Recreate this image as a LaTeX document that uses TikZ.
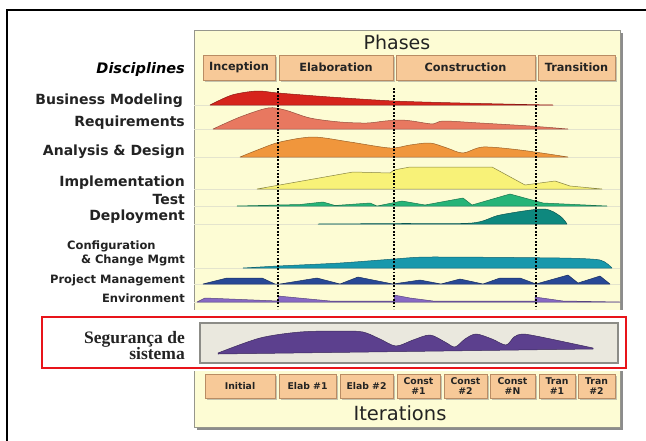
\documentclass[tikz,border=0pt]{standalone}
\usepackage{fontspec}
\setmainfont{DejaVu Sans}
\newfontfamily\serifbold{Liberation Serif}
\usetikzlibrary{shadows}
\definecolor{panelfill}{RGB}{253,252,212}
\definecolor{panelline}{RGB}{150,150,140}
\definecolor{boxfill}{RGB}{247,201,152}
\definecolor{boxline}{RGB}{185,140,100}
\definecolor{guide}{RGB}{228,228,205}
\definecolor{cBM}{RGB}{214,36,28}
\definecolor{cRQ}{RGB}{232,120,96}
\definecolor{cAD}{RGB}{240,150,60}
\definecolor{cIM}{RGB}{248,242,120}
\definecolor{cTE}{RGB}{38,180,120}
\definecolor{cDE}{RGB}{14,136,126}
\definecolor{cCM}{RGB}{24,152,172}
\definecolor{cPM}{RGB}{40,72,150}
\definecolor{cEN}{RGB}{135,105,195}
\definecolor{cSE}{RGB}{92,64,142}
\definecolor{secfill}{RGB}{234,232,222}
\definecolor{secline}{RGB}{140,140,135}
\definecolor{redbox}{RGB}{232,20,26}
\definecolor{txt}{RGB}{35,35,35}
\tikzset{
  disc/.style={anchor=base east, inner sep=0pt, font=\bfseries\fontsize{14}{15}\selectfont, text=txt},
  discsmall/.style={anchor=base east, inner sep=0pt, font=\bfseries\fontsize{11.5}{12}\selectfont, text=txt},
  phbox/.style={draw=boxline, fill=boxfill, line width=0.8pt, inner sep=0pt,
    font=\bfseries\fontsize{11.3}{12}\selectfont, text=txt,
    drop shadow={shadow xshift=1.5pt, shadow yshift=-1.5pt, opacity=0.45}},
  itbox/.style={phbox, font=\bfseries\fontsize{9.3}{9.5}\selectfont, align=center},
  hump/.style={fill=#1, draw=#1!65!black, line width=0.5pt, line join=round},
  phaseline/.style={line width=2pt, dash pattern=on 1.8pt off 1.6pt, black},
  guideline/.style={draw=guide, line width=0.7pt},
  secl/.style={anchor=base east, inner sep=0pt, font=\serifbold\bfseries\fontsize{17.5}{18}\selectfont, text=txt}
}
\begin{document}
\begin{tikzpicture}[x=1pt, y=-1pt]
\useasboundingbox (0,0) rectangle (646,440);
\fill[white] (0,0) rectangle (646,440);
% outer frame
\draw[line width=2.6pt, black] (7,450) -- (7,10) -- (660,10);
% panel
\fill[black!45] (197,33) rectangle (623,430);
\draw[panelline, fill=panelfill, line width=0.8pt] (194,30) rectangle (620,427);
% guide lines
\foreach \yy in {105,129,157,189,206,224,268,284,302}
  \draw[guideline] (194,\yy) -- (620,\yy);
% titles
\node[font=\fontsize{19}{20}\selectfont, text=txt, anchor=base] (phases) at (397,49) {Phases};
\node[font=\fontsize{19.5}{20}\selectfont, text=txt, anchor=base] (iters) at (400,420) {Iterations};
% phase boxes
\node[phbox, minimum width=72, minimum height=25] (inc) at (239,67.5) {Inception};
\node[phbox, minimum width=114, minimum height=25] (ela) at (336,67.5) {Elaboration};
\node[phbox, minimum width=139, minimum height=25] (con) at (465.5,67.5) {Construction};
\node[phbox, minimum width=77, minimum height=25] (tra) at (576.5,67.5) {Transition};
% humps
\draw[hump=cBM] plot[smooth, tension=0.5] coordinates {(210,105) (232,95) (257,91) (278,93) (330,97) (394,101) (460,103) (527,104.5) (553,105)} -- cycle;
\draw[hump=cRQ] plot[smooth, tension=0.5] coordinates {(213,129) (240,117) (268,108) (285,110) (310,118) (340,122) (367,123) (385,121) (400,120) (412,121) (433,124) (443,121) (480,123) (530,126) (568,129)} -- cycle;
\draw[hump=cAD] plot[smooth, tension=0.5] coordinates {(240,157) (260,149) (280,142) (313,137) (350,142) (390,148) (410,145) (430,143) (447,148) (463,153) (483,147) (520,150) (568,157)} -- cycle;
\draw[hump=cIM, draw=cIM!55!black] (257,189) -- (353,172) -- (390,173) -- (394,170) -- (410,167) -- (492,167) -- (525,185) -- (555,181) -- (570,186) -- (602,189) -- cycle;
\draw[hump=cTE] (237,206) -- (300,204.5) -- (323,202) -- (335,205.5) -- (370,203) -- (377,206) -- (402,201) -- (425,205) -- (463,198) -- (472,205) -- (510,194) -- (543,203) -- (607,206) -- cycle;
\draw[hump=cDE] plot[smooth, tension=0.5] coordinates {(318,224) (400,223.5) (472,223) (500,215) (543,209) (560,216) (567,224)} -- cycle;
\draw[hump=cCM] plot[smooth, tension=0.4] coordinates {(243,268) (278,266) (340,263) (394,259) (430,257) (560,258) (600,260) (612,268)} -- cycle;
\draw[hump=cPM] (203,284) -- (227,278) -- (262,278) -- (275,284) -- (280,284) -- (317,278) -- (340,284) -- (358,277) -- (393,284) -- (420,280) -- (441,284) -- (460,279) -- (483,284) -- (500,278) -- (520,278) -- (536,284) -- (568,275) -- (578,283) -- (600,276) -- (610,284) -- cycle;
\draw[hump=cEN] (197,302) -- (205,298) -- (278,301) -- (278,296) -- (330,301) -- (394,301) -- (394,295) -- (410,298) -- (433,301) -- (535,301) -- (535,297) -- (563,301) -- (620,302) -- cycle;
% phase separators
\coordinate (d1t) at (278,88); \coordinate (d1b) at (278,309);
\coordinate (d2t) at (394,88); \coordinate (d2b) at (394,309);
\coordinate (d3t) at (536,88); \coordinate (d3b) at (536,309);
\draw[phaseline] (d1t) -- (d1b);
\draw[phaseline] (d2t) -- (d2b);
\draw[phaseline] (d3t) -- (d3b);
% white band for the new row
\fill[white] (150,309.5) rectangle (640,371);
% security row
\draw[secline, fill=secfill, line width=2pt] (200,323) rectangle (618,363);
\draw[hump=cSE] plot[smooth, tension=0.5] coordinates {(218,353) (260,338) (300,332) (340,331) (363,332) (380,339) (396,346) (413,340) (430,335) (445,342) (455,347) (465,339) (476,334) (492,339) (506,345) (514,337) (522,334) (536,336) (565,342) (593,348)} -- (593,349) -- (218,354) -- cycle;
\draw[redbox, line width=2.5pt] (42,317) rectangle (626,368);
% iteration boxes
\node[itbox, minimum width=70, minimum height=24] (it1) at (240,386) {Initial};
\node[itbox, minimum width=57, minimum height=24] (it2) at (307.5,386) {Elab \#1};
\node[itbox, minimum width=53, minimum height=24] (it3) at (366.5,386) {Elab \#2};
\node[itbox, minimum width=43, minimum height=24] (it4) at (418.5,386) {Const\\\#1};
\node[itbox, minimum width=43, minimum height=24] (it5) at (465.5,386) {Const\\\#2};
\node[itbox, minimum width=45, minimum height=24] (it6) at (512.5,386) {Const\\\#N};
\node[itbox, minimum width=36, minimum height=24] (it7) at (557,386) {Tran\\\#1};
\node[itbox, minimum width=37, minimum height=24] (it8) at (596.5,386) {Tran\\\#2};
% discipline labels
\node[anchor=base east, inner sep=0pt, font=\bfseries\itshape\fontsize{14.5}{15}\selectfont, text=black] (dis) at (185,73) {Disciplines};
\node[disc] (bm) at (183,104) {Business Modeling};
\node[disc] (rq) at (185,126) {Requirements};
\node[disc] (ad) at (185,155) {Analysis \& Design};
\node[disc] (im) at (185,186) {Implementation};
\node[disc] (te) at (185,204) {Test};
\node[disc] (de) at (185,220) {Deployment};
\node[discsmall, anchor=base west] (cm1) at (67,249) {Configuration};
\node[discsmall] (cm2) at (185,263) {\& Change Mgmt};
\node[discsmall] (pm) at (185,283) {Project Management};
\node[discsmall] (en) at (185,302) {Environment};
\node[secl] (se1) at (185,343) {Segurança de};
\node[secl] (se2) at (185,359) {sistema};
\end{tikzpicture}
\end{document}
